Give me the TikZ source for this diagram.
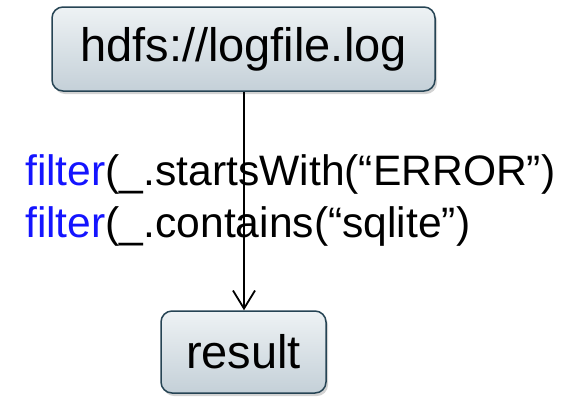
\documentclass[tikz,border=0pt]{standalone}
\usepackage{fontspec}
\setmainfont{Liberation Sans}
\usetikzlibrary{arrows.meta, shadows}
\definecolor{boxline}{RGB}{38,68,84}
\definecolor{boxtop}{RGB}{238,242,244}
\definecolor{boxbot}{RGB}{196,208,216}
\definecolor{kwblue}{RGB}{20,20,255}

\begin{document}
\begin{tikzpicture}[x=1pt, y=-1pt,
  databox/.style={draw=boxline, line width=1.5pt, rounded corners=11pt,
    top color=boxtop, bottom color=boxbot,
    drop shadow={shadow xshift=2pt, shadow yshift=-3pt, opacity=0.35},
    inner sep=0pt, font=\fontsize{47}{54}\selectfont},
  optext/.style={anchor=base west, inner sep=0pt, font=\fontsize{42.6}{50}\selectfont}]
  \useasboundingbox (0, 0) rectangle (564, 397);
  % boxes
  \node[databox, minimum width=383pt, minimum height=84pt] (src) at (243.5, 49) {hdfs://logfile.log};
  \node[databox, minimum width=165pt, minimum height=82pt] (res) at (243.5, 352) {result};
  % operations
  \node[optext] (f1) at (25, 185) {\textcolor{kwblue}{filter}(\_.startsWith(“ERROR”)};
  \node[optext] (f2) at (25, 237) {\textcolor{kwblue}{filter}(\_.contains(“sqlite”)};
  \draw[line width=1.8pt, -{Straight Barb[length=18pt, width=22pt]}] (src.south -| 244, 0) -- (res.north -| 244, 0);
\end{tikzpicture}
\end{document}
